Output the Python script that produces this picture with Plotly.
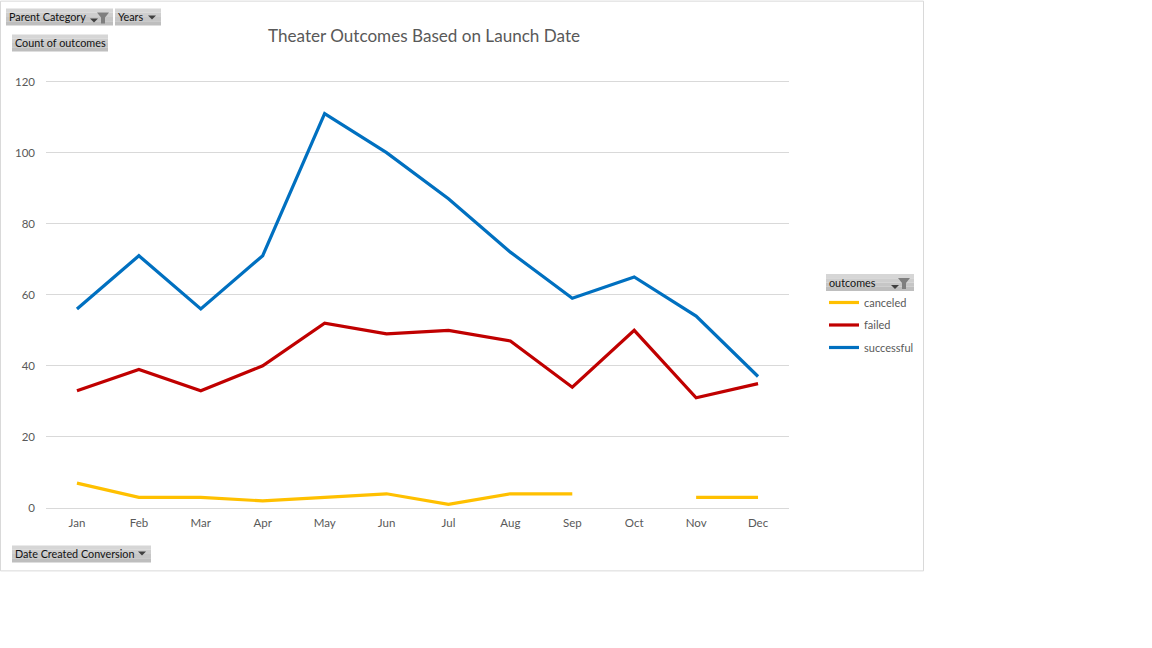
import plotly.graph_objects as go

months = ["Jan","Feb","Mar","Apr","May","Jun","Jul","Aug","Sep","Oct","Nov","Dec"]
canceled = [7,3,3,2,3,4,1,4,4,None,3,3]
failed = [33,39,33,40,52,49,50,47,34,50,31,35]
successful = [56,71,56,71,111,100,87,72,59,65,54,37]
y_ticks = [0,20,40,60,80,100,120]
y_max = 121

FONT = "Lato"
L, R, B = 46, 789, 508.5
T = B - (B - 81.1) * y_max / 120
px = lambda x: (x - L) / (R - L)
py = lambda y: (B - y) / (B - T)

fig = go.Figure()
for name, vals, col in [("canceled", canceled, "#FFC000"),
                        ("failed", failed, "#C00000"),
                        ("successful", successful, "#0070C0")]:
    fig.add_trace(go.Scatter(x=months, y=vals, name=name, mode="lines", legendgroup=name,
                             line=dict(color=col, width=3.2), connectgaps=False, cliponaxis=False))

shapes = [dict(type="rect", xref="paper", yref="paper", x0=px(0.5), x1=px(923.5), y0=py(0.5), y1=py(571.5),
               line=dict(color="#d9d9d9", width=1), fillcolor="white", layer="below")]
annots = []

def button(x0, y0, x1, y1, text, tx, arrow=None, funnel=None, dy=-0.8):
    bands = ["#d6d6d6", "#cecece", "#c6c6c6", "#bebebe"]
    h = (y1 - y0) / len(bands)
    for i, c in enumerate(bands):
        shapes.append(dict(type="rect", xref="paper", yref="paper", x0=px(x0), x1=px(x1),
                           y0=py(y0 + i * h), y1=py(y0 + (i + 1) * h), line=dict(width=0), fillcolor=c))
    annots.append(dict(text=text, xref="paper", yref="paper", x=px(tx - 2), y=py((y0 + y1) / 2 + dy),
                       xanchor="left", yanchor="middle", showarrow=False,
                       font=dict(family=FONT, size=10.8, color="#111111")))
    if arrow:
        ax, ay = arrow
        p = f"M{px(ax-4)},{py(ay-2)} L{px(ax+4)},{py(ay-2)} L{px(ax)},{py(ay+2)} Z"
        shapes.append(dict(type="path", xref="paper", yref="paper", path=p, line=dict(width=0), fillcolor="#404040"))
    if funnel:
        fx, fy = funnel
        p = (f"M{px(fx-6)},{py(fy-5)} L{px(fx+6)},{py(fy-5)} L{px(fx+2)},{py(fy)} "
             f"L{px(fx+2)},{py(fy+6)} L{px(fx-2)},{py(fy+6)} L{px(fx-2)},{py(fy)} Z")
        shapes.append(dict(type="path", xref="paper", yref="paper", path=p, line=dict(width=0), fillcolor="#7f7f7f"))

button(6, 8, 113, 25, "Parent Category", 9, arrow=(94, 20), funnel=(103, 17))
button(115, 8, 161, 25, "Years", 118, arrow=(152, 17))
button(12, 34, 108, 51, "Count of outcomes", 15)
button(826, 274, 914, 291, "outcomes", 829, arrow=(895, 287), funnel=(904, 283), dy=0)
button(12, 546, 151, 563, "Date Created Conversion", 15, arrow=(142, 554), dy=0)

annots.append(dict(text="Theater Outcomes Based on Launch Date", xref="paper", yref="paper",
                   x=px(424), y=py(35), xanchor="center", yanchor="middle", showarrow=False,
                   font=dict(family=FONT, size=17.1, color="#595959")))

fig.update_layout(
    width=1152, height=648, autosize=False,
    margin=dict(l=L, r=1152 - R, t=T, b=648 - B, pad=0),
    paper_bgcolor="white", plot_bgcolor="rgba(0,0,0,0)",
    shapes=shapes, annotations=annots,
    font=dict(family=FONT, size=11.5, color="#595959"),
    showlegend=True,
    legend=dict(x=px(824), y=py(288), xanchor="left", yanchor="top", bgcolor="rgba(0,0,0,0)",
                font=dict(family=FONT, size=11, color="#595959"), tracegroupgap=3.5, traceorder="grouped",
                borderwidth=0),
    xaxis=dict(type="category", categoryorder="array", categoryarray=months, range=[-0.5, 11.5],
               showgrid=False, zeroline=False, showline=False, ticks="", ticklen=0,
               ticklabelstandoff=6, tickfont=dict(family=FONT, size=11.5, color="#595959")),
    yaxis=dict(range=[0, y_max], tickmode="array", tickvals=y_ticks, showgrid=True, gridcolor="#d9d9d9",
               gridwidth=1, zeroline=True, zerolinecolor="#d9d9d9", zerolinewidth=1, showline=False,
               ticks="", ticklabelstandoff=10, tickfont=dict(family=FONT, size=11.5, color="#595959")),
)

fig.write_html("out.html", config=dict(displayModeBar=False), post_script="document.body.style.margin='0';")
